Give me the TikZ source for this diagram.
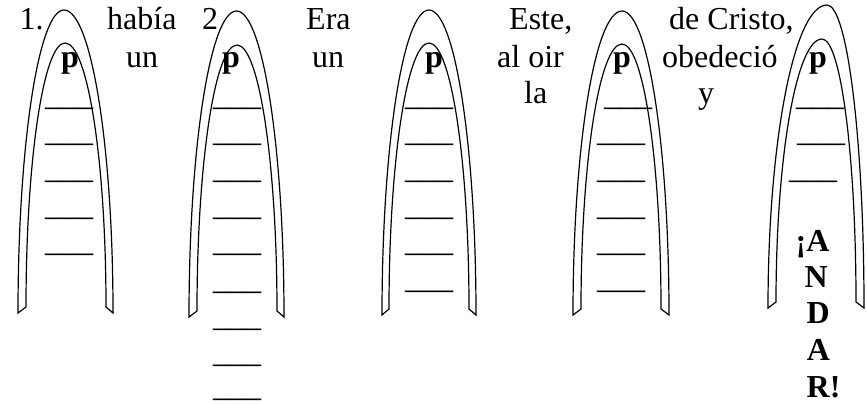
\documentclass[tikz,border=0pt]{standalone}
\usepackage{fontspec}
\setmainfont{Liberation Serif}
\newcommand\myarch[9]{%
  \draw[archline] (#1,#5)
    arc[start angle=180,end angle=270,x radius=#2-#1,y radius=#5-#4]
    arc[start angle=270,end angle=360,x radius=#3-#2,y radius=#5-#4]
    -- (#8,#5-6)
    arc[start angle=0,end angle=-90,x radius=#8-#7,y radius=#5-6-#9]
    arc[start angle=-90,end angle=-180,x radius=#7-#6,y radius=#5-6-#9]
    -- cycle;}
\begin{document}
\begin{tikzpicture}[x=1pt,y=-1pt,
  archline/.style={draw=black,fill=white,line width=1.2pt,line join=miter},
  txt/.style={font=\fontsize{32}{37}\selectfont,inner sep=0pt,anchor=base west},
  btxt/.style={font=\fontsize{32}{37}\selectfont\bfseries,inner sep=0pt,anchor=base west},
  pp/.style={font=\fontsize{32}{37}\selectfont\bfseries,inner sep=0pt,anchor=base}]
\useasboundingbox (0,0) rectangle (867,404);
% arches
\myarch{18}{64}{113}{10}{313}{26}{65}{106}{43}
\myarch{189}{236.5}{284}{11}{317}{197}{237}{277}{45}
\myarch{382}{429}{476}{10}{315}{389}{429}{469}{43}
\myarch{573}{622}{669}{11}{315}{581}{622}{661}{44}
\myarch{768}{827}{864}{5}{308}{776}{822}{856}{39}
% texts
\node[txt] (n1) at (19.5,30) {1.};
\node[txt] (habia) at (107,30) {había};
\node[txt] (un1) at (126,67) {un};
\node[txt] (n2) at (202,30) {2};
\node[txt] (era) at (306,30) {Era};
\node[txt] (un2) at (312,67) {un};
\node[txt] (este) at (509,30) {Este,};
\node[txt] (aloir) at (497,67) {al oir};
\node[txt] (la) at (524,103) {la};
\node[txt] (cristo) at (669,30) {de Cristo,};
\node[txt] (obedecio) at (662,67) {obedeció};
\node[txt] (yy) at (698,103) {y};
% p
\node[pp] (p1) at (70,67) {p};
\node[pp] (p2) at (231,67) {p};
\node[pp] (p3) at (434,67) {p};
\node[pp] (p4) at (622,67) {p};
\node[pp] (p5) at (818,67) {p};
% blanks
\foreach \yy [count=\i] in {107,143,180,217,253}
  \node[txt] (ua\i) at (45,\yy-2) {\_\_\_};
\foreach \yy [count=\i] in {107,143,180,217,253,291,328,364,398}
  \node[txt] (ub\i) at (213,\yy-2) {\_\_\_};
\foreach \yy [count=\i] in {107,143,180,217,253,290}
  \node[txt] (uc\i) at (405,\yy-2) {\_\_\_};
\node[txt] (ud1) at (604,105) {\_\_\_};
\foreach \yy [count=\i] in {143,180,217,253,290}
  \node[txt] (ud\i x) at (597,\yy-2) {\_\_\_};
\node[txt] (ue1) at (796,105) {\_\_\_};
\node[txt] (ue2) at (797,141) {\_\_\_};
\node[txt] (ue3) at (789,178) {\_\_\_};
% andar
\node[btxt] (w1) at (795.5,251) {¡A};
\node[btxt] (w2) at (804.5,287) {N};
\node[btxt] (w3) at (806.5,323) {D};
\node[btxt] (w4) at (806.7,360) {A};
\node[btxt] (w5) at (806.5,397) {R!};
\end{tikzpicture}
\end{document}
